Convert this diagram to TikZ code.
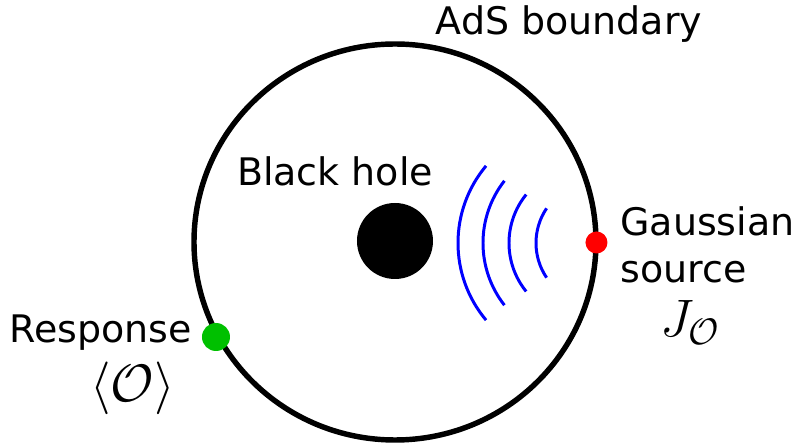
\RequirePackage{fix-cm}
\documentclass[tikz,border=0pt]{standalone}
\usepackage{fontspec}
\setmainfont{DejaVu Sans}
\definecolor{respgreen}{RGB}{0,192,0}
\begin{document}
\begin{tikzpicture}[
    lbl/.style={inner sep=0pt, anchor=base, font=\fontsize{21.6}{27.3}\selectfont},
    mathlbl/.style={inner sep=0pt, anchor=base, font=\fontsize{30}{36}\selectfont},
    dotnode/.style={circle, inner sep=0pt, draw=none},
    wave/.style={draw=blue, line width=1.7pt}
]
\useasboundingbox (-7.90,-4.08) rectangle (8.02,4.84);

%% Boundary and black hole %%
\draw[line width=3.1pt] (0,0) ellipse [x radius=4.02, y radius=3.96];
\node[circle, fill=black, minimum size=1.52cm, inner sep=0pt] (bh) at (0,0.02) {};

% Waves coming in from the source
\foreach \cx/\r/\a in {4.06/1.24/34, 3.82/1.54/39, 3.78/2.02/38, 3.66/2.40/40}
    \draw[wave] (\cx,-0.02) ++(180-\a:\r) arc[start angle=180-\a, end angle=180+\a, radius=\r];

%% Points on the boundary %%
\node[dotnode, fill=red, minimum size=0.44cm]       (src)  at (4.03,-0.01) {};
\node[dotnode, fill=respgreen, minimum size=0.56cm] (resp) at (-3.58,-1.90) {};

%% Labels %%
\node[lbl] (bndlbl) at (3.48, 4.14) {AdS boundary};
\node[lbl] (bhlbl)  at (-1.20, 1.12) {Black hole};
\node[lbl, anchor=base west, align=left] (srclbl) at (4.50, -0.82) {Gaussian\\source};
\node[mathlbl] (srcmath) at (5.90, -1.90) {$J_{\mathcal{O}}$};
\node[lbl] (resplbl)  at (-5.89, -2.01) {Response};
\node[mathlbl] (respmath) at (-5.25, -3.20) {$\langle\mathcal{O}\rangle$};

\end{tikzpicture}
\end{document}
